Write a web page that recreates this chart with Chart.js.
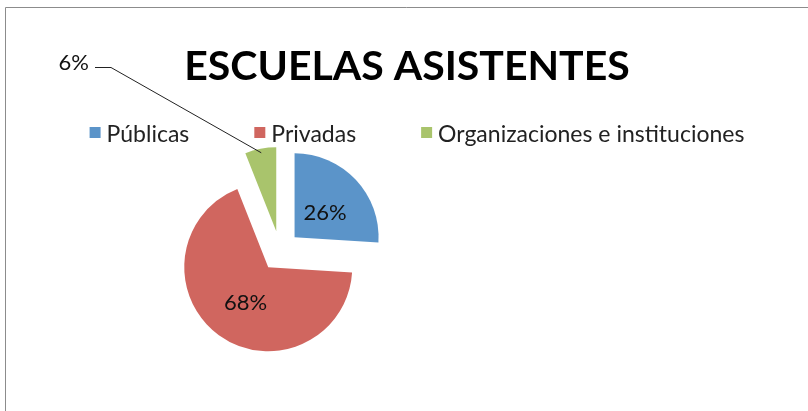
<!DOCTYPE html>
<html>
<head>
<meta charset="utf-8">
<script src="https://cdn.jsdelivr.net/npm/chart.js@4.4.0/dist/chart.umd.min.js"></script>
<style>
  html, body { margin:0; padding:0; background:#fff; }
</style>
</head>
<body>
<canvas id="myChart" width="808" height="411"></canvas>
<script>
let labels = ['Públicas', 'Privadas', 'Organizaciones e instituciones'];
let values = [26, 68, 6];
let palette = ['#5b94c9', '#d0665f', '#a9c46c'];
let title_text = 'ESCUELAS ASISTENTES';

let font_family = 'Lato, "Open Sans", sans-serif';
let explode = 20;

function pct(i){
  let total = values.reduce((a,c) => a + c, 0);
  return Math.round(values[i] / total * 100) + '%';
}

let pie_extras = {
  id: 'pie_extras',
  beforeDraw(chart){
    let ctx = chart.ctx;
    ctx.save();
    ctx.fillStyle = '#fff';
    ctx.fillRect(0, 0, chart.width, chart.height);
    // chart frame (only top and left edges are visible)
    ctx.strokeStyle = '#8c8c8c';
    ctx.lineWidth = 1;
    ctx.beginPath();
    ctx.moveTo(5.5, chart.height);
    ctx.lineTo(5.5, 7.5);
    ctx.lineTo(chart.width, 7.5);
    ctx.stroke();
    ctx.restore();
  },
  beforeDatasetsDraw(chart){
    // exploded slices: shift every arc outwards along its mid angle
    let ctx = chart.ctx;
    chart.getDatasetMeta(0).data.forEach(arc => {
      let mid = (arc.startAngle + arc.endAngle) / 2;
      ctx.save();
      ctx.translate(Math.cos(mid) * explode, Math.sin(mid) * explode);
      arc.draw(ctx);
      ctx.restore();
    });
    return false;
  },
  afterDraw(chart){
    let ctx = chart.ctx;
    let arcs = chart.getDatasetMeta(0).data;
    ctx.save();

    // slice labels
    ctx.fillStyle = '#111';
    ctx.font = '22px ' + font_family;
    ctx.textAlign = 'center';
    ctx.textBaseline = 'middle';
    arcs.forEach((arc, i) => {
      let p = arc.getProps(['x', 'y', 'startAngle', 'endAngle', 'outerRadius'], true);
      let mid = (p.startAngle + p.endAngle) / 2;
      let cx = p.x + Math.cos(mid) * explode;
      let cy = p.y + Math.sin(mid) * explode;
      if (i < 2) {
        let d = p.outerRadius * 0.48;
        ctx.fillText(pct(i), cx + Math.cos(mid) * d + 1, cy + Math.sin(mid) * d + 3);
      } else {
        // moved label with leader line
        let ex = cx + Math.cos(mid) * (p.outerRadius - 4);
        let ey = cy + Math.sin(mid) * (p.outerRadius - 4);
        ctx.strokeStyle = '#222';
        ctx.lineWidth = 1;
        ctx.beginPath();
        ctx.moveTo(95, 67.5);
        ctx.lineTo(111, 67.5);
        ctx.lineTo(ex, ey);
        ctx.stroke();
        ctx.textAlign = 'right';
        ctx.fillText(pct(i), 89, 63);
        ctx.textAlign = 'center';
      }
    });

    // title
    ctx.font = 'bold 41px ' + font_family;
    ctx.textAlign = 'center';
    ctx.textBaseline = 'alphabetic';
    ctx.fillStyle = '#000';
    ctx.fillText(title_text, 407, 80);

    // legend
    ctx.font = '23px ' + font_family;
    let box = 11, box_gap = 6, item_gap = 65;
    let widths = labels.map(l => ctx.measureText(l).width);
    let total = widths.reduce((a,c) => a + c + box + box_gap, 0) + item_gap * (labels.length - 1);
    let x = 417 - total / 2;
    ctx.textAlign = 'left';
    labels.forEach((l, i) => {
      ctx.fillStyle = palette[i];
      ctx.fillRect(x, 127, box, box);
      ctx.fillStyle = '#222';
      ctx.fillText(l, x + box + box_gap, 142);
      x += box + box_gap + widths[i] + item_gap;
    });
    ctx.restore();
  }
};

new Chart('myChart', {
  type: 'pie',
  data: {
    labels: labels,
    datasets: [{
      data: values,
      backgroundColor: palette,
      borderWidth: 0,
      radius: 84
    }]
  },
  options: {
    responsive: false,
    animation: false,
    layout: {
      padding: {left: 150, right: 398, top: 140, bottom: 49}
    },
    plugins: {
      legend: { display: false },
      tooltip: { enabled: false },
      title: { display: false }
    }
  },
  plugins: [pie_extras]
});
</script>
</body>
</html>
